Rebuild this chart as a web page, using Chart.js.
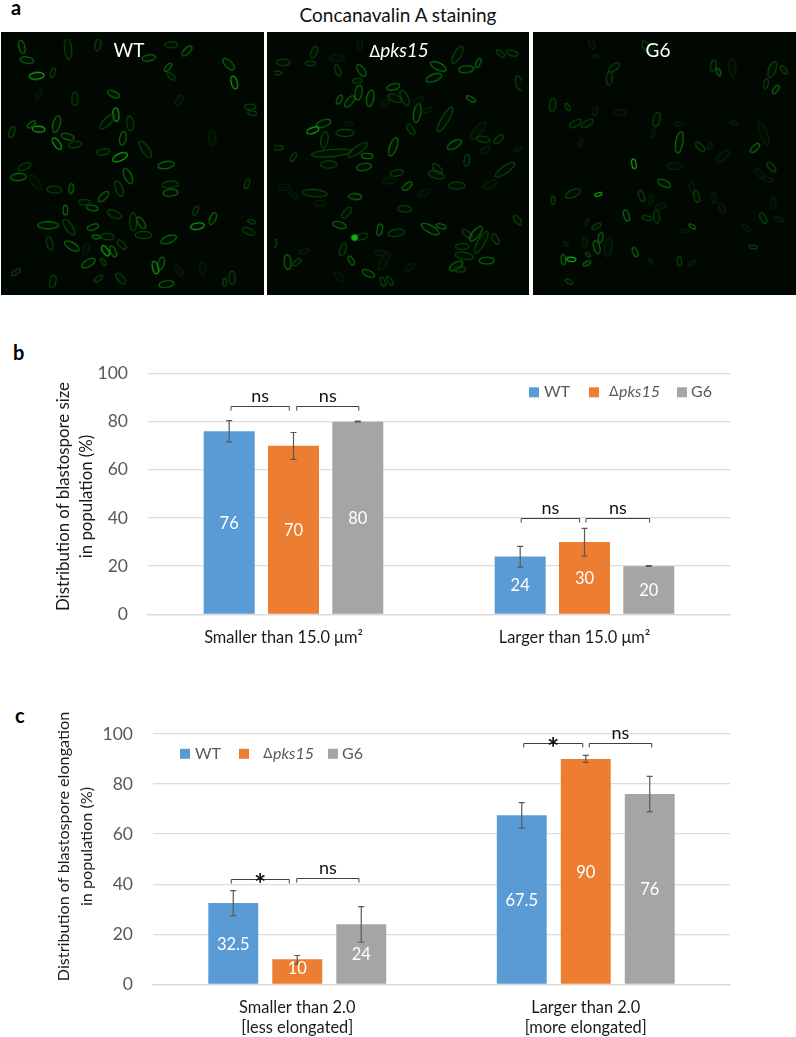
<!DOCTYPE html>
<html>
<head>
<meta charset="utf-8">
<script src="https://cdn.jsdelivr.net/npm/chart.js@4"></script>
<style>
html,body{margin:0;padding:0;background:#fff;}
#page{position:relative;width:796px;height:1037px;overflow:hidden;font-family:Lato,sans-serif;}
.abs{position:absolute;white-space:nowrap;line-height:1;}
.tag{font-weight:700;font-size:20px;color:#000;}
.panel{position:absolute;top:32px;height:263px;background:#010801;}
.panel canvas{display:block;}
.plabel{position:absolute;top:41px;color:#fff;font-size:19px;line-height:18px;transform:translateX(-50%);white-space:nowrap;}
.chartbox{position:absolute;left:0;width:796px;}
</style>
</head>
<body>
<div id="page">
  <div class="abs tag" style="left:11px;top:-3px;">a</div>
  <div class="abs" id="ptitle" style="left:398px;top:5px;font-size:19px;color:#111;transform:translateX(-50%);">Concanavalin A staining</div>
  <div class="panel" style="left:1px;width:263px;"><canvas id="p0"></canvas></div>
  <div class="panel" style="left:267px;width:262px;"><canvas id="p1"></canvas></div>
  <div class="panel" style="left:533px;width:263px;"><canvas id="p2"></canvas></div>
  <div class="plabel" style="left:129px;">WT</div>
  <div class="plabel" style="left:399px;"><span style="font-family:'DejaVu Sans';font-size:16px;">Δ</span><i>pks15</i></div>
  <div class="plabel" style="left:658px;">G6</div>
  <div class="abs tag" style="left:13px;top:342px;">b</div>
  <div class="abs tag" style="left:15px;top:705px;">c</div>
  <div class="chartbox" style="top:340px;height:320px;"><canvas id="chartB"></canvas></div>
  <div class="chartbox" style="top:700px;height:337px;"><canvas id="chartC"></canvas></div>
</div>
<script>
// ---------- DATA ----------
const seriesNames = ['WT', 'pks15', 'G6'];
const seriesColors = ['#5B9BD5', '#ED7D31', '#A5A5A5'];
const yTicks = [0, 20, 40, 60, 80, 100];

const sizeCategories = ['Smaller than 15.0 μm²', 'Larger than 15.0 μm²'];
const sizeWT = [76, 24];
const sizePks15 = [70, 30];
const sizeG6 = [80, 20];
const sizeErrHighWT = [80.4, 28.2];
const sizeErrLowWT = [71.6, 19.6];
const sizeErrHighPks15 = [75.5, 35.7];
const sizeErrLowPks15 = [64.3, 24.2];
const sizeErrHighG6 = [80.2, 20.2];
const sizeErrLowG6 = [79.9, 19.9];

const elongCategories = [['Smaller than 2.0', '[less elongated]'], ['Larger than 2.0', '[more elongated]']];
const elongWT = [32.5, 67.5];
const elongPks15 = [10, 90];
const elongG6 = [24, 76];
const elongErrHighWT = [37.4, 72.6];
const elongErrLowWT = [27.4, 62.4];
const elongErrHighPks15 = [11.5, 91.5];
const elongErrLowPks15 = [8.1, 88.7];
const elongErrHighG6 = [31, 83.1];
const elongErrLowG6 = [16.8, 69];

// micrograph cells: [x, y, angle, length, brightness], read in a 3x view of each panel
const cellsWT = [[47,25,75,40,2],[63,67,10,42,2],[94,117,-5,44,3],[145,107,-70,30,1],[193,30,85,65,1],[288,18,-80,38,1],[520,18,0,38,1],[570,38,-45,38,2],[449,60,-10,40,2],[510,90,-50,30,2],[520,118,45,30,1],[702,80,45,45,2],[720,138,75,40,3],[337,175,25,38,2],[215,190,90,40,1],[100,175,-60,30,0],[345,240,85,40,3],[318,262,-45,60,1],[390,268,85,45,1],[157,270,-75,52,2],[77,271,-40,30,2],[100,286,5,38,3],[15,295,-70,35,1],[192,310,15,40,2],[158,332,55,40,3],[215,335,-10,40,1],[367,315,-80,42,2],[305,358,-10,40,1],[358,375,-25,48,3],[438,350,55,60,1],[504,400,-10,50,2],[383,435,65,50,2],[36,438,-5,48,2],[55,405,-25,42,1],[90,455,55,55,0],[150,478,5,45,1],[203,475,-85,30,2],[355,475,70,50,1],[306,500,-45,40,2],[517,462,-5,50,1],[518,488,-5,45,2],[270,536,10,35,2],[185,543,90,30,2],[245,518,0,35,1],[340,556,25,45,1],[130,591,0,62,2],[196,597,55,55,1],[272,597,-20,35,2],[425,583,55,40,2],[400,580,90,55,1],[603,594,-10,42,3],[652,570,-65,38,2],[597,545,-65,30,1],[318,627,5,42,1],[282,628,5,25,2],[432,622,0,50,1],[512,636,-20,50,2],[135,648,75,40,1],[205,657,30,50,2],[363,652,45,35,1],[312,672,55,35,3],[336,674,65,35,2],[258,711,-30,45,2],[305,707,50,25,1],[250,665,-75,40,0],[470,725,75,38,3],[488,712,-75,40,2],[28,740,-35,30,1],[145,770,-80,40,1],[290,760,-35,30,1],[713,758,-90,40,1],[690,772,90,25,1],[505,778,-10,45,2],[360,760,50,40,1],[545,735,50,35,0],[620,728,90,40,0],[770,215,0,35,1],[778,235,10,30,1],[775,580,15,25,1],[765,610,25,40,1],[760,460,-70,30,1],[650,315,85,50,0],[545,195,-60,35,0]];
const cellsPks15 = [[130,42,-65,38,1],[32,74,0,42,1],[118,77,0,30,1],[14,108,0,25,1],[203,60,0,45,0],[205,100,70,35,1],[280,100,55,42,2],[267,132,-10,30,1],[275,15,-90,35,0],[210,192,-65,30,2],[243,198,-50,42,2],[271,170,-80,45,2],[308,188,-80,50,2],[381,152,-15,40,2],[386,188,20,45,1],[417,187,65,50,1],[355,203,-30,30,0],[457,235,-80,58,2],[460,195,-30,35,0],[524,87,25,52,2],[510,123,-20,50,2],[612,96,-5,45,2],[650,76,-65,30,2],[721,46,40,30,1],[758,45,15,35,1],[627,190,30,30,2],[780,140,75,45,1],[585,50,-60,60,1],[545,255,-60,85,1],[490,225,-20,30,0],[436,287,55,35,1],[650,290,-50,70,0],[160,268,-20,45,2],[126,290,-20,38,3],[163,320,-80,50,1],[228,298,0,55,1],[240,268,0,25,0],[16,345,-5,30,1],[64,375,-60,30,1],[185,362,-5,120,1],[268,352,-35,70,1],[381,342,-70,58,2],[298,371,5,35,2],[176,398,0,50,1],[288,406,-10,45,2],[392,425,-10,40,1],[425,467,-40,35,2],[521,412,50,40,1],[517,431,15,50,1],[575,335,-30,48,2],[666,318,10,40,1],[715,318,-45,35,1],[672,352,-30,35,0],[614,385,-80,36,1],[735,415,-35,70,1],[688,462,-30,45,0],[582,465,0,50,1],[478,489,-20,40,0],[132,489,5,75,1],[36,470,0,40,0],[66,495,40,30,0],[260,500,5,38,2],[233,551,-50,40,1],[417,539,5,42,1],[148,522,0,40,0],[210,590,15,42,2],[338,605,-80,35,2],[390,615,-10,50,1],[280,627,-15,40,1],[258,630,0,12,3],[498,603,30,60,2],[533,594,15,30,2],[615,618,40,35,1],[643,618,-50,55,2],[660,645,-60,75,1],[705,635,60,35,1],[600,658,0,40,1],[606,688,10,55,1],[677,703,0,45,2],[580,720,-30,45,2],[592,731,0,35,1],[340,678,-5,35,0],[352,705,-60,60,0],[221,668,-70,40,1],[248,703,60,30,2],[98,674,-20,30,0],[46,708,85,45,2],[75,708,-40,30,1],[302,744,25,40,2],[348,770,70,30,1],[370,767,60,30,1],[433,725,-30,35,0],[210,755,50,40,0],[775,575,50,35,1],[5,648,-80,25,1],[368,450,-5,40,0],[775,350,-20,25,0]];
const cellsG6 = [[172,15,70,35,0],[185,55,0,20,0],[243,90,-35,40,1],[228,125,-85,40,1],[345,25,60,40,1],[368,30,30,30,0],[558,85,-80,35,1],[575,105,70,25,2],[618,90,85,55,0],[745,97,-70,50,1],[782,98,50,30,1],[725,142,-80,30,1],[756,160,-55,30,2],[48,210,-85,42,1],[96,216,60,25,1],[183,228,-75,30,0],[262,233,0,35,0],[120,268,-30,40,1],[158,268,-30,40,1],[378,255,-75,45,1],[367,298,-80,25,0],[450,270,0,30,0],[137,330,-70,25,0],[450,328,-80,65,2],[516,342,45,35,1],[547,340,-60,25,0],[588,372,-40,50,0],[718,300,70,75,0],[690,346,-45,35,2],[622,266,10,25,0],[306,396,80,30,3],[742,406,50,35,1],[704,426,50,35,0],[730,445,10,30,0],[435,403,0,50,0],[402,458,25,42,2],[113,490,-25,50,1],[193,493,-15,22,3],[50,512,85,25,1],[330,498,70,35,1],[360,510,-80,32,0],[490,470,80,35,0],[505,500,75,35,1],[560,505,85,32,0],[585,537,70,35,0],[748,520,-90,35,0],[392,530,-15,35,0],[282,560,70,35,2],[347,568,10,30,1],[378,563,85,40,1],[716,568,65,35,1],[767,572,15,30,0],[491,595,35,22,2],[187,594,-30,30,1],[157,580,-70,20,0],[663,600,50,30,0],[200,630,-80,30,2],[188,660,75,40,2],[150,645,-85,35,0],[225,660,-85,60,0],[90,650,40,20,0],[310,676,65,30,2],[685,660,5,25,1],[82,700,85,30,2],[107,699,5,28,3],[160,684,45,18,1],[157,712,-30,25,2],[450,705,85,30,1],[490,712,-35,25,0],[100,770,30,25,1],[360,705,80,20,0],[470,610,0,25,0]];

// ---------- micrograph panels ----------
const cellColors = ['#062406', '#094a0a', '#0d740e', '#18b018'];
const spriteCache = {};
function cellSprite(len, level) {
  const key = len + '_' + level;
  if (spriteCache[key]) return spriteCache[key];
  const w = len / 3, h = Math.min(Math.max(len * 0.46, 10), 22) / 3;
  const c = document.createElement('canvas');
  c.width = Math.ceil(w) + 6; c.height = Math.ceil(h) + 6;
  const g = c.getContext('2d');
  g.filter = 'blur(0.45px)';
  g.strokeStyle = cellColors[level];
  g.lineWidth = len < 15 ? 3 : 1.1;
  g.fillStyle = 'rgba(0,40,0,0.2)';
  g.beginPath();
  g.ellipse(c.width / 2, c.height / 2, w / 2, h / 2, 0, 0, Math.PI * 2);
  g.fill(); g.stroke();
  spriteCache[key] = c;
  return c;
}
function panelChart(id, cells, xMin, xMax, w) {
  const el = document.getElementById(id);
  el.style.width = w + 'px'; el.style.height = '263px';
  new Chart(el, {
    type: 'scatter',
    data: { datasets: [{
      data: cells.map(c => ({ x: c[0], y: c[1] })),
      pointRadius: 6,
      pointStyle: ctx => { const c = cells[ctx.dataIndex]; return c ? cellSprite(c[3], c[4]) : 'circle'; },
      pointRotation: ctx => { const c = cells[ctx.dataIndex]; return c ? c[2] : 0; }
    }] },
    options: {
      responsive: false, animation: false, events: [],
      layout: { padding: 0 },
      plugins: { legend: { display: false }, tooltip: { enabled: false } },
      scales: {
        x: { type: 'linear', display: false, min: xMin, max: xMax },
        y: { type: 'linear', display: false, min: 0, max: 790, reverse: true }
      }
    }
  });
}
panelChart('p0', cellsWT, 3, 792, 263);
panelChart('p1', cellsPks15, 3, 789, 262);
panelChart('p2', cellsG6, 8, 798, 263);

// ---------- bar charts ----------
const BODY = 'Lato, sans-serif';
function barChart(id, cfg) {
  const el = document.getElementById(id);
  el.width = 796; el.height = cfg.height;
  el.style.width = '796px'; el.style.height = cfg.height + 'px';
  const figure = {
    id: 'figure',
    afterDatasetsDraw(chart) {
      const ctx = chart.ctx, y = chart.scales.y;
      ctx.save();
      // error bars
      ctx.strokeStyle = '#595959'; ctx.lineWidth = 1.2;
      cfg.errHigh.forEach((hi, d) => {
        const lo = cfg.errLow[d];
        chart.getDatasetMeta(d).data.forEach((bar, g) => {
          const a = y.getPixelForValue(hi[g]), b = y.getPixelForValue(lo[g]), cap = 3;
          ctx.beginPath();
          ctx.moveTo(bar.x, a); ctx.lineTo(bar.x, b);
          ctx.moveTo(bar.x - cap, a); ctx.lineTo(bar.x + cap, a);
          ctx.moveTo(bar.x - cap, b); ctx.lineTo(bar.x + cap, b);
          ctx.stroke();
        });
      });
      // value labels
      ctx.fillStyle = '#fff'; ctx.font = '16.5px ' + BODY;
      ctx.textAlign = 'center'; ctx.textBaseline = 'middle';
      cfg.values.forEach((vals, d) => {
        chart.getDatasetMeta(d).data.forEach((bar, g) => {
          const lift = (cfg.labelLift && cfg.labelLift[d] && cfg.labelLift[d][g]) || 0;
          ctx.fillText(String(vals[g]), bar.x, (bar.y + bar.base) / 2 + 1 - lift);
        });
      });
      // significance brackets
      ctx.strokeStyle = '#404040'; ctx.lineWidth = 1; ctx.fillStyle = '#111';
      cfg.brackets.forEach(br => {
        const x0 = chart.getDatasetMeta(br.from).data[br.group].x + br.dx0;
        const x1 = chart.getDatasetMeta(br.to).data[br.group].x + br.dx1;
        const yy = Math.round(y.getPixelForValue(br.level)) + 0.5;
        ctx.beginPath();
        ctx.moveTo(x0, yy + 4); ctx.lineTo(x0, yy); ctx.lineTo(x1, yy); ctx.lineTo(x1, yy + 4);
        ctx.stroke();
        const cx = (x0 + x1) / 2;
        if (br.text === '*') {
          ctx.font = 'bold 29px ' + BODY; ctx.textBaseline = 'alphabetic';
          ctx.fillText('*', cx, yy + 14);
        } else {
          ctx.font = '18px ' + BODY; ctx.textBaseline = 'middle';
          ctx.fillText(br.text, cx, yy - 10.5);
        }
      });
      // legend
      ctx.textBaseline = 'middle'; ctx.textAlign = 'left';
      const L = cfg.legend;
      seriesNames.forEach((name, i) => {
        ctx.fillStyle = seriesColors[i];
        ctx.fillRect(L.box[i], L.y - 5, 10, 10);
        ctx.fillStyle = '#595959';
        if (name === 'pks15') {
          ctx.font = '14px "DejaVu Sans"';
          ctx.fillText('Δ', L.text[i], L.y + 0.5);
          ctx.font = 'italic 16px ' + BODY;
          ctx.fillText(name, L.text[i] + 10, L.y);
        } else {
          ctx.font = '16px ' + BODY;
          ctx.fillText(name, L.text[i], L.y);
        }
      });
      // y axis title
      ctx.fillStyle = '#1a1a1a'; ctx.font = cfg.yTitleSize + 'px ' + BODY; ctx.textAlign = 'center';
      cfg.yTitle.forEach((line, i) => {
        ctx.save();
        ctx.translate(64 + i * 23, cfg.yTitleCenter);
        ctx.rotate(-Math.PI / 2);
        ctx.fillText(line, 0, 0);
        ctx.restore();
      });
      ctx.restore();
    }
  };
  return new Chart(el, {
    type: 'bar',
    data: {
      labels: cfg.categories,
      datasets: cfg.values.map((vals, i) => ({
        label: seriesNames[i], data: vals, backgroundColor: seriesColors[i],
        categoryPercentage: cfg.catPct, barPercentage: cfg.barPct, borderWidth: 0
      }))
    },
    options: {
      responsive: false, animation: false, events: [],
      layout: { padding: { top: cfg.padTop, right: 66, left: 0, bottom: 0 } },
      plugins: { legend: { display: false }, tooltip: { enabled: false }, title: { display: false } },
      scales: {
        x: {
          grid: { display: false, drawTicks: false },
          border: { display: true, color: '#d9d9d9', width: 1.3 },
          ticks: { color: '#1a1a1a', font: { family: BODY, size: 16.4, lineHeight: 1.24 }, padding: cfg.xPad, labelOffset: cfg.xOffset, maxRotation: 0, autoSkip: false },
          afterFit: s => { s.height = cfg.xHeight; }
        },
        y: {
          min: 0, max: 100,
          afterBuildTicks: s => { s.ticks = yTicks.map(v => ({ value: v })); },
          grid: { color: '#dcdcdc', lineWidth: 1.3, drawTicks: false },
          border: { display: false },
          ticks: { color: '#595959', font: { family: BODY, size: 17.5 }, padding: 20 },
          afterFit: s => { s.width = cfg.plotLeft; }
        }
      }
    },
    plugins: [figure]
  });
}

barChart('chartB', {
  height: 320, plotLeft: 148, padTop: 33.5, xHeight: 45.7, xPad: 13, xOffset: -10,
  catPct: 0.663, barPct: 0.793,
  categories: sizeCategories,
  values: [sizeWT, sizePks15, sizeG6],
  errHigh: [sizeErrHighWT, sizeErrHighPks15, sizeErrHighG6],
  errLow: [sizeErrLowWT, sizeErrLowPks15, sizeErrLowG6],
  yTitle: ['Distribution of blastospore size', 'in population (%)'],
  yTitleCenter: 156.5, yTitleSize: 16.8,
  legend: { y: 52.3, box: [529, 589, 677], text: [544, 609, 691] },
  brackets: [
    { group: 0, from: 0, to: 1, dx0: 1.8, dx1: -4.2, level: 86.4, text: 'ns' },
    { group: 0, from: 1, to: 2, dx0: 3.2, dx1: 1, level: 86.6, text: 'ns' },
    { group: 1, from: 0, to: 1, dx0: 1, dx1: -4.8, level: 39.9, text: 'ns' },
    { group: 1, from: 1, to: 2, dx0: 1.5, dx1: 0.8, level: 39.9, text: 'ns' }
  ]
});
barChart('chartC', {
  height: 337, plotLeft: 153, padTop: 34, xHeight: 52.7, xPad: 13, xOffset: 0,
  catPct: 0.6655, barPct: 0.78,
  categories: elongCategories,
  values: [elongWT, elongPks15, elongG6],
  errHigh: [elongErrHighWT, elongErrHighPks15, elongErrHighG6],
  errLow: [elongErrLowWT, elongErrLowPks15, elongErrLowG6],
  labelLift: [null, [4, 0], null],
  yTitle: ['Distribution of blastospore elongation', 'in population (%)'],
  yTitleCenter: 146.5, yTitleSize: 16.2,
  legend: { y: 53.8, box: [180, 239, 328], text: [195, 263, 342] },
  brackets: [
    { group: 0, from: 0, to: 1, dx0: -2, dx1: -8, level: 41.9, text: '*' },
    { group: 0, from: 1, to: 2, dx0: -0.5, dx1: -2.3, level: 42.3, text: 'ns' },
    { group: 1, from: 0, to: 1, dx0: 2, dx1: -3, level: 96.3, text: '*' },
    { group: 1, from: 1, to: 2, dx0: 3.5, dx1: 2, level: 96.5, text: 'ns' }
  ]
});
</script>
</body>
</html>
